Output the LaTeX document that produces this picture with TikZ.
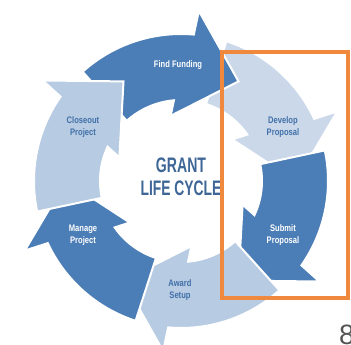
\documentclass[tikz,border=0pt]{standalone}
\usepackage{fontspec}
\setmainfont{Liberation Sans}
\definecolor{darkarrow}{HTML}{4B7DB6}
\definecolor{lightarrow}{HTML}{B7CBE2}
\definecolor{paleArrow}{HTML}{CAD8EA}
\definecolor{labelblue}{HTML}{4070A8}
\definecolor{titleblue}{HTML}{3E6797}
\definecolor{frameorange}{HTML}{F0883E}
\definecolor{pagegray}{HTML}{555555}
\newcommand\cyclearrowpath[1]{%
  ({#1+72}:81) -- ({#1+72}:147) arc[start angle={#1+72}, end angle={#1+25}, radius=147pt]
  -- ({#1+24}:171) -- (#1:115) -- ({#1+39}:66) -- ({#1+35}:81)
  arc[start angle={#1+35}, end angle={#1+72}, radius=81pt] -- cycle}
\newcommand\twoline[2]{\scalebox{0.8}[1]{\begin{tabular}{@{}c@{}}#1\\#2\end{tabular}}}
\begin{document}
\begin{tikzpicture}[x=1pt,y=1pt,
  arrowshape/.style={draw=white, line width=2pt, line join=miter},
  smalllabel/.style={font=\fontsize{9.5}{12.5}\selectfont\bfseries, inner sep=0pt},
  titlelabel/.style={font=\fontsize{21}{23}\selectfont\bfseries, text=titleblue, inner sep=0pt}]
\useasboundingbox (-181,-164) rectangle (170,181);
% arrows, clockwise
\fill[darkarrow, arrowshape] \cyclearrowpath{60};
\fill[paleArrow, arrowshape] \cyclearrowpath{0};
\fill[darkarrow, arrowshape] \cyclearrowpath{-60};
\fill[lightarrow, arrowshape] \cyclearrowpath{-120};
\fill[darkarrow, arrowshape] \cyclearrowpath{-180};
\fill[lightarrow, arrowshape] \cyclearrowpath{-240};
% Find Funding head over the tail of Develop Proposal
\begin{scope}
  \clip (0,0) -- (35:260) arc[start angle=35, end angle=110, radius=260pt] -- cycle;
  \fill[darkarrow, arrowshape] \cyclearrowpath{60};
\end{scope}
% labels
\node[smalllabel, text=white] (find) at (-3,116) {\scalebox{0.8}[1]{Find Funding}};
\node[smalllabel, text=labelblue] (develop) at (102,54) {\twoline{Develop}{Proposal}};
\node[smalllabel, text=white] (submit) at (102,-54) {\twoline{Submit}{Proposal}};
\node[smalllabel, text=labelblue] (award) at (-1,-109) {\twoline{Award}{Setup}};
\node[smalllabel, text=white] (manage) at (-98,-54) {\twoline{Manage}{Project}};
\node[smalllabel, text=labelblue] (closeout) at (-98,54) {\twoline{Closeout}{Project}};
\node[titlelabel] (grant) at (0,16) {\scalebox{0.67}[1]{GRANT}};
\node[titlelabel] (life) at (0,-7) {\scalebox{0.66}[1]{LIFE CYCLE}};
% highlight frame
\draw[frameorange, line width=4pt] (41,129) rectangle (167,-117) node[coordinate] (framecorner) {};
% page number
\node[anchor=north west, inner sep=0pt, text=pagegray, font=\fontsize{28}{30}\selectfont] (pagenum) at (158,-144) {8};
\end{tikzpicture}
\end{document}
